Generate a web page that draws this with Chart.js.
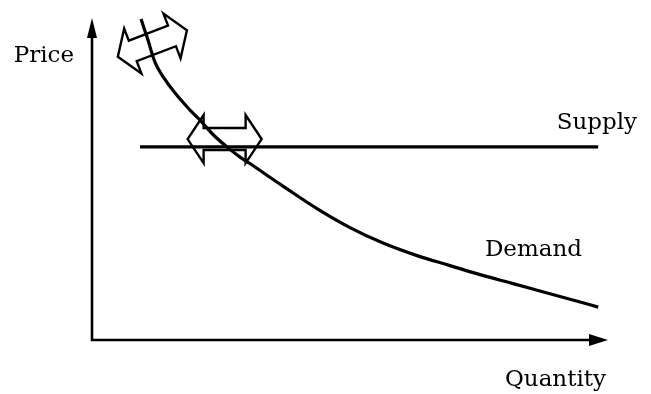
<!DOCTYPE html>
<html lang="en">
<head>
    <meta charset="UTF-8">
    <title>Supply and Demand</title>
    <script src="https://cdn.jsdelivr.net/npm/chart.js"></script>
    <style>
        body, html {
            margin: 0;
            padding: 0;
            background: #fff;
            overflow: hidden;
        }
        #wrap {
            width: 651px;
            height: 394px;
        }
    </style>
</head>
<body>
    <div id="wrap"><canvas id="sdChart"></canvas></div>

    <script>
        // demand curve (quantity 0-100, price 0-100)
        const demandQty = [9.5, 10.9, 12.2, 13.8, 16.1, 19.0, 21.1, 23.4, 26.2, 28.7, 30.6, 37.0, 43.6, 50.0, 56.4, 63.0, 69.4, 75.2, 81.6, 88.2, 94.6, 98.1];
        const demandPrice = [99.7, 92.9, 86.3, 81.7, 76.7, 71.4, 68.0, 63.9, 59.9, 56.8, 54.8, 47.8, 40.8, 34.9, 30.1, 26.2, 23.1, 20.3, 17.5, 14.6, 11.8, 10.2];
        // flat supply line
        const supplyQty = [9.3, 98.1];
        const supplyPrice = [60, 60];
        // the two hollow double arrows (centre in data units, tilt in degrees)
        const shiftQty = [11.7, 25.7];
        const shiftPrice = [92.1, 62.4];
        const shiftTilt = [-21, 0];

        const FONT = '23px "DejaVu Serif", "Liberation Serif", serif';

        function doubleArrow(ctx, cx, cy, deg) {
            const L = 74, hl = 16, hw = 24, bw = 11;
            const a = -L / 2, b = L / 2;
            const pts = [[a, 0], [a + hl, -hw], [a + hl, -bw], [b - hl, -bw], [b - hl, -hw],
                         [b, 0], [b - hl, hw], [b - hl, bw], [a + hl, bw], [a + hl, hw]];
            ctx.save();
            ctx.translate(cx, cy);
            ctx.rotate(deg * Math.PI / 180);
            ctx.beginPath();
            pts.forEach((p, i) => i ? ctx.lineTo(p[0], p[1]) : ctx.moveTo(p[0], p[1]));
            ctx.closePath();
            ctx.lineJoin = 'miter';
            ctx.lineWidth = 2.4;
            ctx.strokeStyle = '#000';
            ctx.stroke();
            ctx.restore();
        }

        const decor = {
            id: 'decor',
            afterDatasetsDraw(chart) {
                const { ctx, chartArea: ca, scales } = chart;
                ctx.save();
                ctx.strokeStyle = '#000';
                ctx.fillStyle = '#000';
                ctx.lineWidth = 2.6;
                // axes
                ctx.beginPath();
                ctx.moveTo(ca.left, ca.top + 10);
                ctx.lineTo(ca.left, ca.bottom);
                ctx.lineTo(ca.right - 10, ca.bottom);
                ctx.stroke();
                ctx.beginPath();
                ctx.moveTo(ca.left, ca.top);
                ctx.lineTo(ca.left - 5, ca.top + 20);
                ctx.lineTo(ca.left + 5, ca.top + 20);
                ctx.closePath();
                ctx.fill();
                ctx.beginPath();
                ctx.moveTo(ca.right, ca.bottom);
                ctx.lineTo(ca.right - 19, ca.bottom - 6);
                ctx.lineTo(ca.right - 19, ca.bottom + 6);
                ctx.closePath();
                ctx.fill();

                shiftQty.forEach((q, i) => {
                    doubleArrow(ctx, scales.x.getPixelForValue(q), scales.y.getPixelForValue(shiftPrice[i]), shiftTilt[i]);
                });

                ctx.font = FONT;
                ctx.textBaseline = 'alphabetic';
                ctx.textAlign = 'right';
                ctx.fillText('Price', ca.left - 18, ca.top + 44);
                ctx.fillText('Supply', ca.left + 545, ca.top + 111);
                ctx.fillText('Demand', ca.left + 490, ca.top + 238);
                ctx.fillText('Quantity', ca.left + 514, ca.bottom + 46);
                ctx.restore();
            }
        };

        const ctx = document.getElementById('sdChart').getContext('2d');
        new Chart(ctx, {
            type: 'line',
            data: {
                datasets: [
                    {
                        label: 'Demand',
                        data: demandQty.map((q, i) => ({ x: q, y: demandPrice[i] })),
                        borderColor: '#000',
                        borderWidth: 3.2,
                        pointRadius: 0,
                        tension: 0.4,
                        clip: false
                    },
                    {
                        label: 'Supply',
                        data: supplyQty.map((q, i) => ({ x: q, y: supplyPrice[i] })),
                        borderColor: '#000',
                        borderWidth: 3.2,
                        pointRadius: 0,
                        clip: false
                    }
                ]
            },
            options: {
                animation: false,
                responsive: true,
                maintainAspectRatio: false,
                layout: { padding: { left: 92, top: 18, right: 43, bottom: 54 } },
                scales: {
                    x: { type: 'linear', min: 0, max: 100, display: false },
                    y: { min: 0, max: 100, display: false }
                },
                plugins: {
                    legend: { display: false },
                    tooltip: { enabled: false }
                }
            },
            plugins: [decor]
        });
    </script>
</body>
</html>
